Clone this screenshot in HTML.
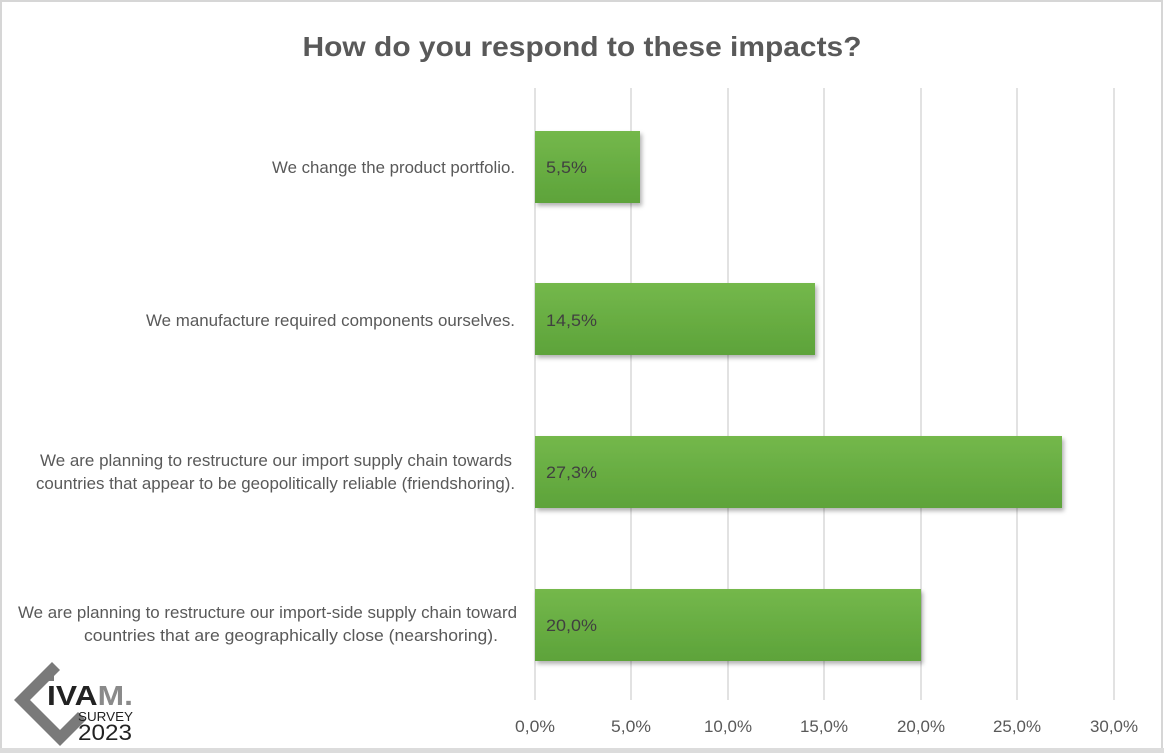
<!DOCTYPE html>
<html><head><style>
html,body{margin:0;padding:0;background:#fff}
svg{display:block}
text{font-family:"Liberation Sans",Arial,sans-serif}
</style></head><body>
<svg width="1164" height="753" viewBox="0 0 1164 753">
<defs>
<linearGradient id="g" x1="0" y1="0" x2="0" y2="1">
<stop offset="0" stop-color="#74b84b"/><stop offset="1" stop-color="#5da33a"/>
</linearGradient>
<filter id="sh" x="-5%" y="-10%" width="115%" height="130%"><feDropShadow dx="2" dy="3" stdDeviation="2" flood-color="#000" flood-opacity="0.3"/></filter>
</defs>
<rect x="1" y="1" width="1161" height="749" fill="#fff" stroke="#d6d6d6" stroke-width="2"/>
<rect x="0" y="748" width="1164" height="5" fill="#dcdcdc"/>
<text x="582" y="56" text-anchor="middle" font-size="28" font-weight="bold" fill="#595959" textLength="559" lengthAdjust="spacingAndGlyphs">How do you respond to these impacts?</text>
<g stroke="#d9d9d9" stroke-width="1.5">
<line x1="535" y1="88" x2="535" y2="700"/><line x1="631" y1="88" x2="631" y2="700"/>
<line x1="728" y1="88" x2="728" y2="700"/><line x1="824" y1="88" x2="824" y2="700"/>
<line x1="921" y1="88" x2="921" y2="700"/><line x1="1017" y1="88" x2="1017" y2="700"/>
<line x1="1114" y1="88" x2="1114" y2="700"/>
</g>
<g fill="url(#g)" filter="url(#sh)">
<rect x="535" y="131" width="105" height="72"/>
<rect x="535" y="283" width="280" height="72"/>
<rect x="535" y="436" width="527" height="72"/>
<rect x="535" y="589" width="386" height="72"/>
</g>
<g font-size="17" fill="#404040">
<text x="546" y="173" textLength="41" lengthAdjust="spacingAndGlyphs">5,5%</text>
<text x="546" y="326" textLength="51" lengthAdjust="spacingAndGlyphs">14,5%</text>
<text x="546" y="478" textLength="51" lengthAdjust="spacingAndGlyphs">27,3%</text>
<text x="546" y="631" textLength="51" lengthAdjust="spacingAndGlyphs">20,0%</text>
</g>
<g font-size="17" fill="#595959">
<text x="272" y="173" textLength="243" lengthAdjust="spacingAndGlyphs">We change the product portfolio.</text>
<text x="146" y="326" textLength="369" lengthAdjust="spacingAndGlyphs">We manufacture required components ourselves.</text>
<text x="40" y="466" textLength="472" lengthAdjust="spacingAndGlyphs">We are planning to restructure our import supply chain towards</text>
<text x="36" y="489" textLength="479" lengthAdjust="spacingAndGlyphs">countries that appear to be geopolitically reliable (friendshoring).</text>
<text x="18" y="618" textLength="499" lengthAdjust="spacingAndGlyphs">We are planning to restructure our import-side supply chain toward</text>
<text x="84" y="641" textLength="414" lengthAdjust="spacingAndGlyphs">countries that are geographically close (nearshoring).</text>
</g>
<g font-size="17" fill="#595959" text-anchor="middle">
<text x="535" y="732" textLength="40" lengthAdjust="spacingAndGlyphs">0,0%</text><text x="631" y="732" textLength="40" lengthAdjust="spacingAndGlyphs">5,0%</text>
<text x="728" y="732" textLength="48" lengthAdjust="spacingAndGlyphs">10,0%</text><text x="824" y="732" textLength="48" lengthAdjust="spacingAndGlyphs">15,0%</text>
<text x="921" y="732" textLength="48" lengthAdjust="spacingAndGlyphs">20,0%</text><text x="1017" y="732" textLength="48" lengthAdjust="spacingAndGlyphs">25,0%</text>
<text x="1114" y="732" textLength="48" lengthAdjust="spacingAndGlyphs">30,0%</text>
</g>
<!-- logo -->
<polygon points="52,662 60,670 30,700 60,730 78,712 86,720 60,746 14,700" fill="#7a7a7a"/>
<rect x="48" y="675" width="6" height="6" fill="#7a7a7a"/>
<text x="47" y="705" font-size="28" font-weight="bold" fill="#222" textLength="86" lengthAdjust="spacingAndGlyphs">IVA<tspan fill="#8a8a8a">M.</tspan></text>
<text x="78" y="721" font-size="13" fill="#222" textLength="55" lengthAdjust="spacingAndGlyphs">SURVEY</text>
<text x="78" y="740" font-size="22" fill="#222" textLength="54" lengthAdjust="spacingAndGlyphs">2023</text>
</svg>
</body></html>
